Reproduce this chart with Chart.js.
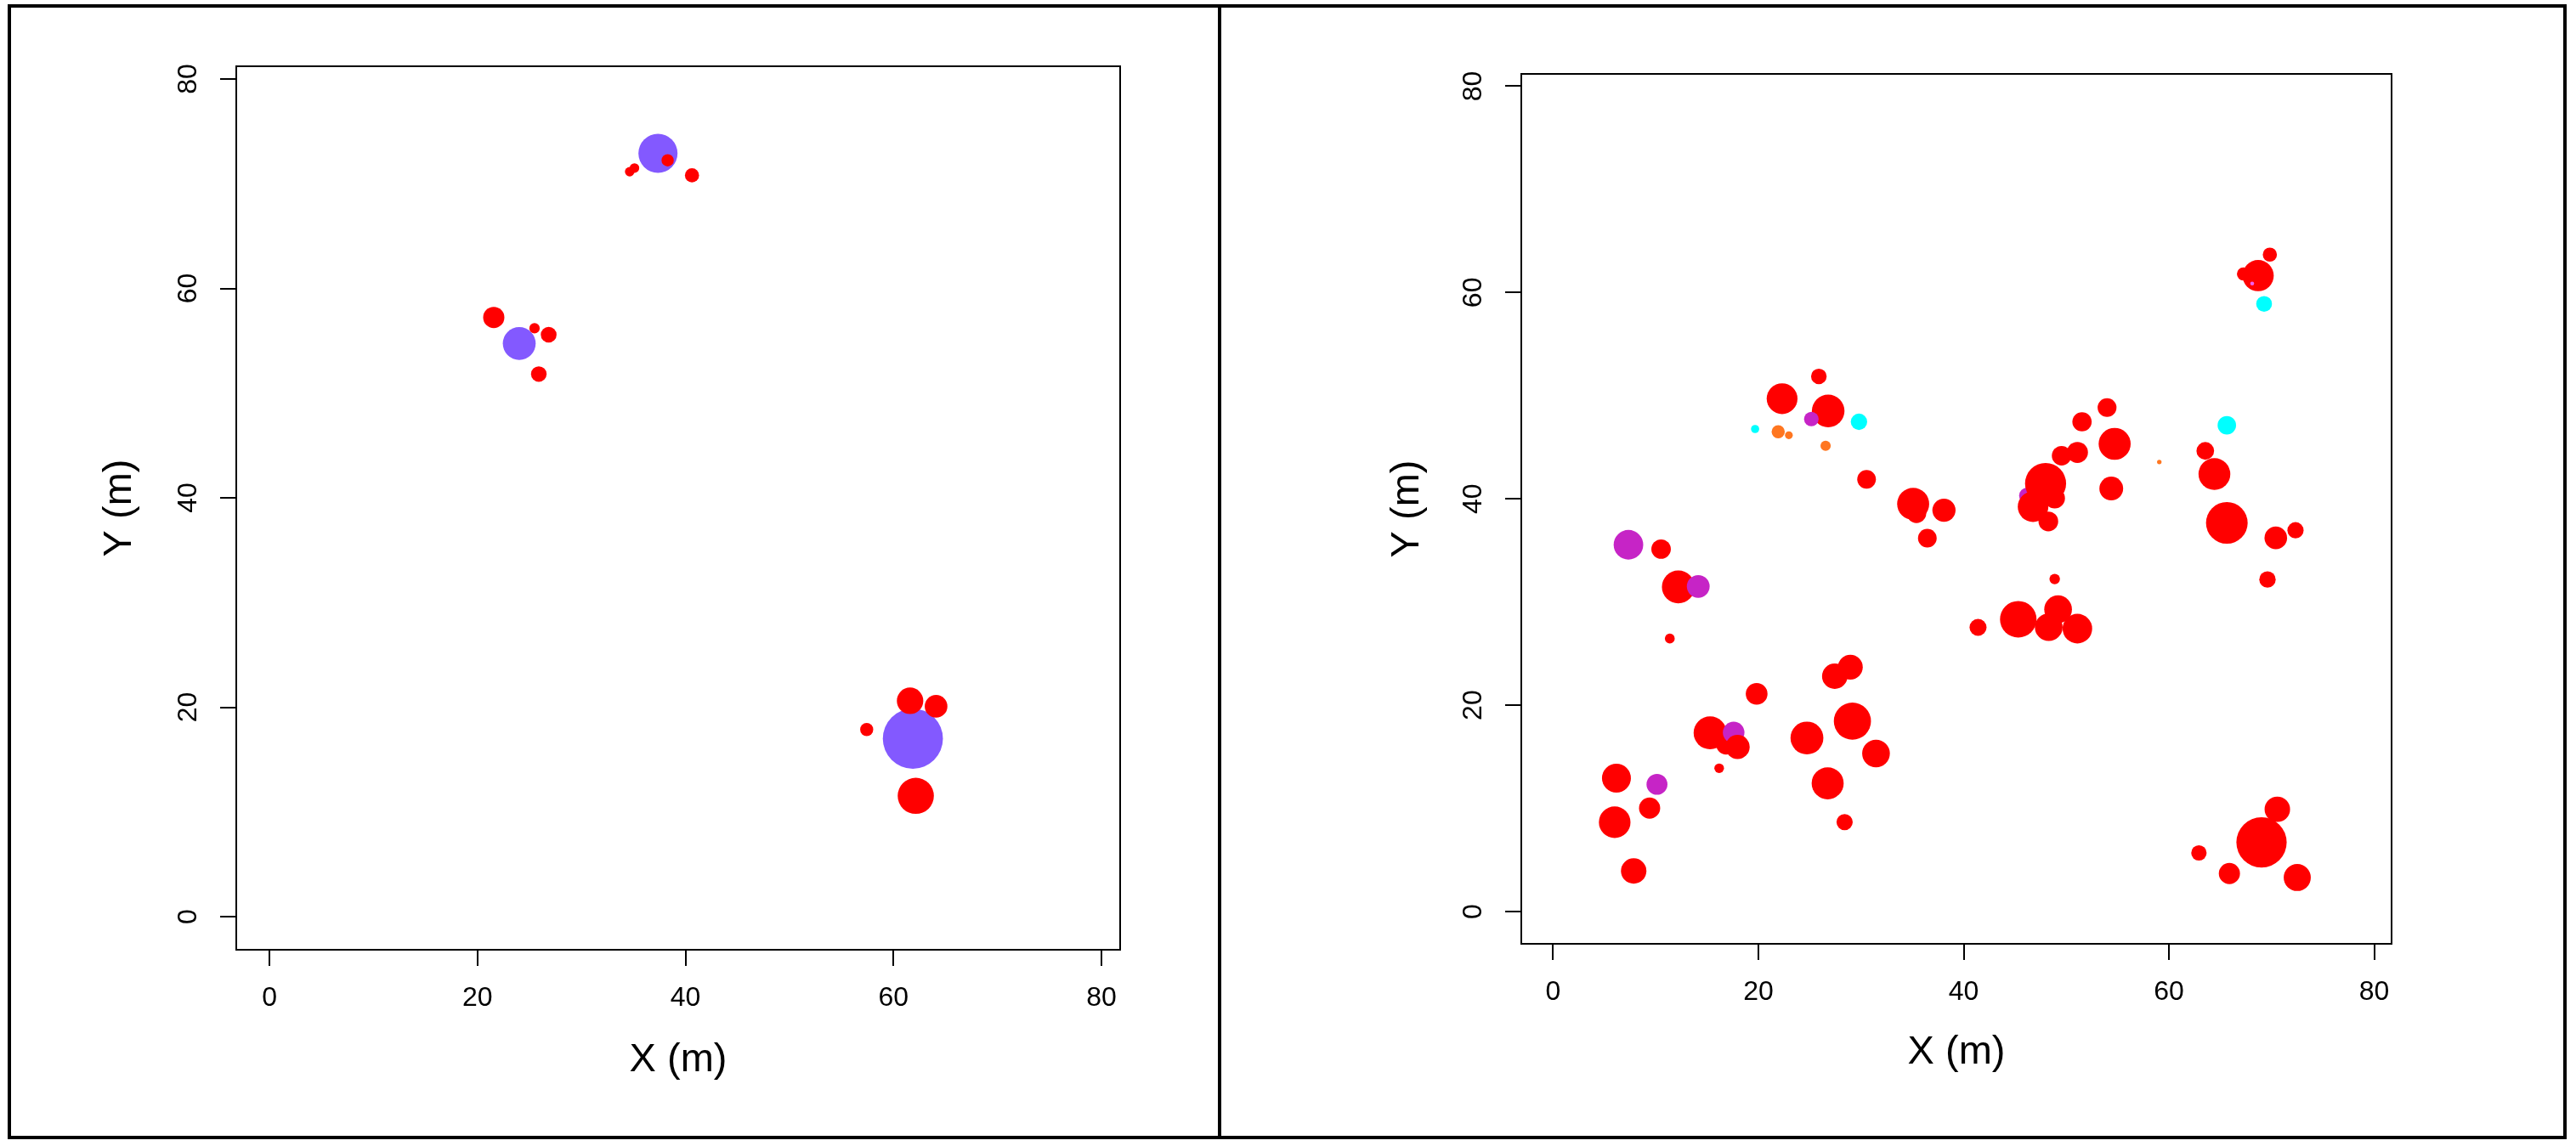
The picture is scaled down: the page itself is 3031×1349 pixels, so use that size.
<!DOCTYPE html>
<html>
<head>
<meta charset="utf-8">
<title>Stem maps</title>
<script src="https://cdn.jsdelivr.net/npm/chart.js@4.4.1/dist/chart.umd.min.js"></script>
<style>
    html, body { margin: 0; padding: 0; background: #fff; }
    body { width: 3031px; height: 1349px; position: relative; overflow: hidden; }
    canvas { position: absolute; top: 0; }
    #leftCanvas { left: 0; }
    #rightCanvas { left: 1435px; }
    #frame {
        position: absolute; left: 9px; top: 5px; width: 3011px; height: 1336px;
        border: 4px solid #000; box-sizing: border-box; z-index: 2;
    }
    #divider { position: absolute; left: 1433px; top: 5px; width: 4px; height: 1336px; background: #000; z-index: 2; }
</style>
</head>
<body>
<canvas id="leftCanvas" width="1435" height="1349"></canvas>
<canvas id="rightCanvas" width="1596" height="1349"></canvas>
<div id="frame"></div>
<div id="divider"></div>
<script>
// Axis ticks and titles (both panels)
const tickValues = [0, 20, 40, 60, 80];
const xTitle = 'X (m)';
const yTitle = 'Y (m)';

// Axis limits
const leftXRange = [-3.19, 81.8];
const leftYRange = [-3.16, 81.22];
const rightXRange = [-3.1, 81.69];
const rightYRange = [-3.13, 81.19];

// Left plot: stem positions (m), crown radius (m), species
const leftX = [37.36, 24.02, 61.87, 38.29, 34.64, 35.1, 40.63, 21.57, 25.49, 26.85, 25.9, 61.6, 64.1, 57.43, 62.15];
const leftY = [72.9, 54.74, 17.0, 72.24, 71.15, 71.5, 70.8, 57.23, 56.2, 55.58, 51.82, 20.62, 20.09, 17.87, 11.54];
const leftSize = [1.88, 1.58, 2.89, 0.59, 0.46, 0.46, 0.68, 1.02, 0.5, 0.76, 0.75, 1.27, 1.09, 0.63, 1.74];
const leftSpecies = ['F', 'F', 'F', 'A', 'A', 'A', 'A', 'A', 'A', 'A', 'A', 'A', 'A', 'A', 'A'];

// Right plot
const rightX = [
    46.2,
    69.83, 67.26, 68.69, 68.11, 69.27,
    25.89, 22.31, 26.8, 25.16, 29.8, 19.68, 21.93, 22.97, 26.55, 30.54,
    35.4, 35.08, 38.08, 36.46,
    47.98, 49.54, 51.08, 51.53, 53.97, 54.71, 54.38, 46.76, 48.87, 48.25,
    59.06, 65.64, 63.54, 64.43, 65.64, 70.41, 72.33, 69.6, 48.87,
    41.4, 45.32, 48.29, 49.2, 51.08,
    7.34, 10.52, 12.2, 14.14, 11.37,
    27.44, 28.96, 19.83, 15.3, 16.85, 17.59, 17.97, 16.18, 24.73, 29.16, 31.46, 26.75, 28.4,
    6.17, 10.12, 9.4, 6.0, 7.85,
    62.92, 69.02, 70.56, 65.89, 72.5
];
const rightY = [
    40.3,
    63.67, 61.8, 61.64, 60.87, 58.9,
    51.87, 49.71, 48.52, 47.74, 47.47, 46.77, 46.5, 46.17, 45.14, 41.9,
    38.6, 39.51, 38.9, 36.19,
    41.49, 44.18, 44.5, 47.47, 48.85, 45.33, 41.0, 39.24, 40.06, 37.81,
    43.57, 47.14, 44.65, 42.4, 37.67, 36.22, 36.96, 32.18, 32.23,
    27.54, 28.33, 27.56, 29.3, 27.42,
    35.55, 35.13, 31.46, 31.51, 26.46,
    22.81, 23.69, 21.1, 17.32, 16.17, 17.35, 15.95, 13.89, 16.82, 18.45, 15.31, 12.43, 8.67,
    12.93, 12.33, 10.02, 8.65, 3.93,
    5.68, 6.7, 9.91, 3.68, 3.3
];
const rightSize = [
    0.8,
    0.69, 0.64, 1.52, 0.19, 0.77,
    0.76, 1.5, 1.59, 0.71, 0.8, 0.4, 0.64, 0.38, 0.5, 0.91,
    0.95, 1.56, 1.13, 0.91,
    2.0, 0.95, 1.03, 0.94, 0.92, 1.56, 1.16, 1.49, 1.0, 0.96,
    0.22, 0.9, 0.86, 1.55, 2.03, 1.1, 0.79, 0.8, 0.51,
    0.83, 1.78, 1.35, 1.35, 1.44,
    1.44, 0.95, 1.6, 1.11, 0.48,
    1.24, 1.21, 1.06, 1.61, 0.96, 1.05, 1.18, 0.47, 1.6, 1.81, 1.35, 1.56, 0.79,
    1.41, 1.02, 1.03, 1.54, 1.24,
    0.75, 2.45, 1.24, 1.03, 1.32
];
const rightSpecies = [
    'B',
    'A', 'A', 'A', 'E', 'C',
    'A', 'A', 'A', 'B', 'C', 'C', 'D', 'D', 'D', 'A',
    'A', 'A', 'A', 'A',
    'A', 'A', 'A', 'A', 'A', 'A', 'A', 'A', 'A', 'A',
    'D', 'C', 'A', 'A', 'A', 'A', 'A', 'A', 'A',
    'A', 'A', 'A', 'A', 'A',
    'B', 'A', 'A', 'B', 'A',
    'A', 'A', 'A', 'A', 'A', 'B', 'A', 'A', 'A', 'A', 'A', 'A', 'A',
    'A', 'B', 'A', 'A', 'A',
    'A', 'A', 'A', 'A', 'A'
];

// Species colours
const speciesColors = {
    A: '#FF0000',
    B: '#C624C6',
    C: '#00FFFF',
    D: '#FF7620',
    E: '#F060F0',
    F: '#8359FF'
};

const FONT = '"Liberation Sans", Arial, Helvetica, sans-serif';

// Draws the full box round the plot region, like R's box()
const plotBoxPlugin = {
    id: 'plotBox',
    afterDatasetsDraw(chart) {
        const {ctx, chartArea} = chart;
        ctx.save();
        ctx.strokeStyle = '#000';
        ctx.lineWidth = 2;
        ctx.strokeRect(chartArea.left, chartArea.top, chartArea.right - chartArea.left, chartArea.bottom - chartArea.top);
        ctx.restore();
    }
};

function makeStemMap(canvasId, xs, ys, sizes, species, xRange, yRange, frame) {
    const canvas = document.getElementById(canvasId);
    const W = canvas.width;
    const H = canvas.height;

    const points = xs.map((x, i) => ({x: x, y: ys[i], size: sizes[i], sp: species[i]}));

    const tickFont = {family: FONT, size: 32, lineHeight: 1.2};
    const titleFont = {family: FONT, size: 47, lineHeight: 1};

    const setTicks = scale => {
        scale.ticks = tickValues.map(v => ({value: v}));
    };

    return new Chart(canvas, {
        type: 'scatter',
        data: {
            datasets: [{
                data: points,
                pointRadius: c => {
                    if (!c.raw) return 0;
                    const s = c.chart.scales.x;
                    return Math.abs(s.getPixelForValue(c.raw.size) - s.getPixelForValue(0));
                },
                pointHoverRadius: c => {
                    if (!c.raw) return 0;
                    const s = c.chart.scales.x;
                    return Math.abs(s.getPixelForValue(c.raw.size) - s.getPixelForValue(0));
                },
                pointBackgroundColor: c => c.raw ? speciesColors[c.raw.sp] : '#000',
                pointBorderWidth: 0,
                pointHoverBorderWidth: 0,
                pointBorderColor: 'rgba(0,0,0,0)'
            }]
        },
        options: {
            responsive: false,
            animation: false,
            events: [],
            layout: {
                padding: {left: 0, top: frame.top, right: W - frame.right, bottom: 0}
            },
            plugins: {
                legend: {display: false},
                tooltip: {enabled: false}
            },
            scales: {
                x: {
                    type: 'linear',
                    min: xRange[0],
                    max: xRange[1],
                    afterBuildTicks: setTicks,
                    afterFit: scale => { scale.height = H - frame.bottom; },
                    border: {display: false},
                    grid: {
                        display: true,
                        drawOnChartArea: false,
                        drawTicks: true,
                        tickLength: 19,
                        lineWidth: 2,
                        color: '#000'
                    },
                    ticks: {color: '#000', font: tickFont, padding: 19, maxRotation: 0},
                    title: {
                        display: true,
                        text: xTitle,
                        color: '#000',
                        font: titleFont,
                        padding: {top: 0, bottom: frame.xTitlePad}
                    }
                },
                y: {
                    type: 'linear',
                    min: yRange[0],
                    max: yRange[1],
                    afterBuildTicks: setTicks,
                    afterFit: scale => { scale.width = frame.left; },
                    border: {display: false},
                    grid: {
                        display: true,
                        drawOnChartArea: false,
                        drawTicks: true,
                        tickLength: 19,
                        lineWidth: 2,
                        color: '#000'
                    },
                    ticks: {
                        color: '#000',
                        font: tickFont,
                        padding: 19,
                        minRotation: 90,
                        maxRotation: 90,
                        crossAlign: 'center'
                    },
                    title: {
                        display: true,
                        text: yTitle,
                        color: '#000',
                        font: titleFont,
                        padding: {top: frame.yTitlePad, bottom: 0}
                    }
                }
            }
        },
        plugins: [plotBoxPlugin]
    });
}

makeStemMap('leftCanvas', leftX, leftY, leftSize, leftSpecies, leftXRange, leftYRange,
    {left: 278, top: 78, right: 1318, bottom: 1118, xTitlePad: 77, yTitlePad: 118});

makeStemMap('rightCanvas', rightX, rightY, rightSize, rightSpecies, rightXRange, rightYRange,
    {left: 355, top: 87, right: 1379, bottom: 1111, xTitlePad: 86, yTitlePad: 198});
</script>
</body>
</html>
